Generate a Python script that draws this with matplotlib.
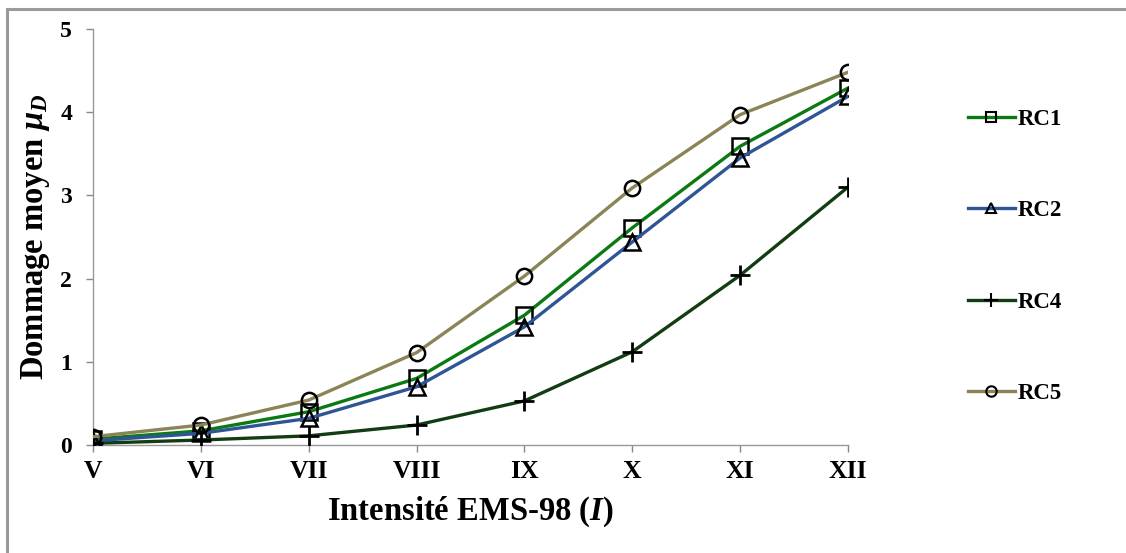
import matplotlib
matplotlib.use("Agg")
import matplotlib.pyplot as plt
from matplotlib.lines import Line2D

# Intensity classes and mean damage per building typology
intensities = ["V", "VI", "VII", "VIII", "IX", "X", "XI", "XII"]
rc1 = [0.07, 0.17, 0.40, 0.80, 1.56, 2.61, 3.59, 4.29]
rc2 = [0.05, 0.14, 0.32, 0.70, 1.42, 2.44, 3.45, 4.19]
rc4 = [0.02, 0.06, 0.11, 0.24, 0.53, 1.12, 2.04, 3.10]
rc5 = [0.10, 0.24, 0.54, 1.11, 2.03, 3.09, 3.97, 4.48]

series = [
    ("RC1", rc1, "#0b7a12", "s"),
    ("RC2", rc2, "#2f5597", "^"),
    ("RC4", rc4, "#123d12", "+"),
    ("RC5", rc5, "#8a8456", "o"),
]

plt.rcParams["font.family"] = ["Liberation Serif", "DejaVu Serif"]
plt.rcParams["mathtext.fontset"] = "custom"
plt.rcParams["mathtext.it"] = "Liberation Serif:italic:bold"
plt.rcParams["mathtext.rm"] = "Liberation Serif:bold"

fig = plt.figure(figsize=(11.26, 5.53), dpi=100)
ax = fig.add_axes([0.0826, 0.1953, 0.6705, 0.7523])

x = list(range(len(intensities)))
handles = []
for name, vals, col, mk in series:
    if mk == "+":
        ax.plot(x, vals, color=col, lw=2.4, marker=mk, ms=14, mew=2.0,
                mec="black", zorder=3)
    else:
        ax.plot(x, vals, color=col, lw=2.4, marker=mk, ms=11, mew=1.8,
                mec="black", mfc="none", zorder=3)
    handles.append(Line2D([0], [0], color=col, lw=2.4, marker=mk,
                          ms=10 if mk == "+" else 7.5, mew=1.5, mec="black",
                          mfc="none", label=name))

ax.set_xlim(0, len(intensities) - 1)
ax.set_ylim(0, 5)
ax.set_xticks(x)
ax.set_xticklabels(intensities, fontsize=18.5, fontweight="bold")
ax.set_yticks(range(6))
ax.set_yticklabels([str(v) for v in range(6)], fontsize=17, fontweight="bold")
ax.tick_params(axis="both", direction="out", length=5, color="#888888", width=1)
ax.tick_params(axis="x", pad=6)
ax.tick_params(axis="y", pad=10)
for s in ("top", "right"):
    ax.spines[s].set_visible(False)
for s in ("left", "bottom"):
    ax.spines[s].set_color("#999999")
    ax.spines[s].set_linewidth(1)

ax.set_xlabel("Intensité EMS-98 ($\\mathit{I}$)", fontsize=23.5,
              fontweight="bold", labelpad=8)
ax.set_ylabel("Dommage moyen $\\mu_D$", fontsize=23.5, fontweight="bold",
              labelpad=6)

leg = fig.legend(handles=handles, loc="upper left",
                 bbox_to_anchor=(0.841, 0.841), frameon=False,
                 labelspacing=3.08, handlelength=2.05,
                 handletextpad=0.15, prop={"weight": "bold", "size": 16.5})

# Frame lines along the top and left edge of the figure
fig.add_artist(Line2D([0.0062, 1.0], [0.984, 0.984], color="#9a9a9a", lw=2.2,
                      transform=fig.transFigure))
fig.add_artist(Line2D([0.0062, 0.0062], [0.0, 0.984], color="#9a9a9a", lw=2.2,
                      transform=fig.transFigure))

fig.savefig("out.png", dpi=100)
